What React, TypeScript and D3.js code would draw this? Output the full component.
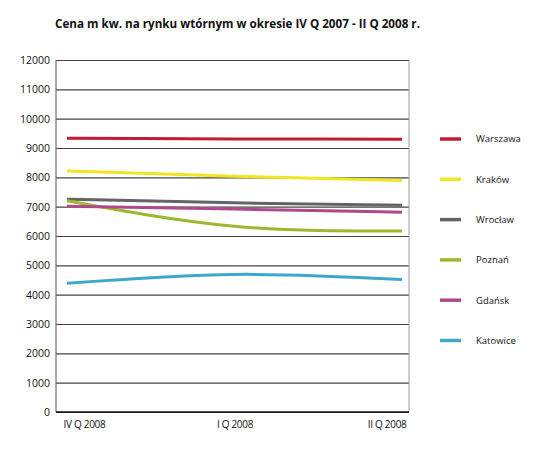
import React, { useRef, useEffect } from "react";
import * as d3 from "d3";

const quarters = ["IV Q 2008", "I Q 2008", "II Q 2008"];
const yTicks = [0, 1000, 2000, 3000, 4000, 5000, 6000, 7000, 8000, 9000, 10000, 11000, 12000];

const cities = ["Warszawa", "Kraków", "Wrocław", "Poznań", "Gdańsk", "Katowice"];
const colors = ["#c41a34", "#f2e620", "#646464", "#9cb82e", "#ad4a8e", "#3ea8c8"];

const warszawa = [9330, 9310, 9300];
const krakow = [8220, 8040, 7890];
const wroclaw = [7255, 7130, 7050];
const poznan = [7200, 6330, 6170];
const gdansk = [7010, 6920, 6810];
const katowice = [4390, 4690, 4517];

const series = [warszawa, krakow, wroclaw, poznan, gdansk, katowice];

const title = "Cena m kw. na rynku wtórnym w okresie IV Q 2007 - II Q 2008 r.";

const LineChart = () => {
  const chartRef = useRef<SVGSVGElement | null>(null);

  useEffect(() => {
    if (!chartRef.current) return;

    const svg = d3.select(chartRef.current);
    svg.selectAll("*").remove();

    const font = "'Open Sans', sans-serif";
    const left = 56;
    const right = 409;
    const top = 60;
    const bottom = 412;

    const x = d3.scalePoint().domain(quarters).range([67, 402]);
    const y = d3.scaleLinear().domain([0, 12000]).range([bottom, top]);

    // title
    svg
      .append("text")
      .attr("x", 55)
      .attr("y", 28)
      .attr("textLength", 365)
      .attr("lengthAdjust", "spacingAndGlyphs")
      .style("font-family", font)
      .style("font-weight", "bold")
      .style("font-size", "13px")
      .style("fill", "#111")
      .text(title);

    // grid lines
    svg
      .append("g")
      .attr("transform", `translate(${left},0)`)
      .call(
        d3
          .axisLeft(y)
          .tickValues(yTicks)
          .tickSize(-(right - left))
          .tickFormat(() => "")
      )
      .call((g) => g.select(".domain").remove())
      .call((g) => g.selectAll(".tick line").attr("stroke", "#444").attr("stroke-width", 1.1));

    // y labels
    svg
      .append("g")
      .attr("transform", `translate(${left},0)`)
      .call(d3.axisLeft(y).tickValues(yTicks).tickSize(0).tickPadding(6).tickFormat((d) => String(d)))
      .call((g) => g.select(".domain").remove())
      .selectAll("text")
      .style("font-family", font)
      .style("font-size", "10.5px")
      .style("fill", "#111");

    // frame sides
    svg
      .append("line")
      .attr("x1", left)
      .attr("x2", left)
      .attr("y1", top)
      .attr("y2", bottom)
      .attr("stroke", "#555")
      .attr("stroke-width", 1);
    svg
      .append("line")
      .attr("x1", right)
      .attr("x2", right)
      .attr("y1", top)
      .attr("y2", bottom)
      .attr("stroke", "#9a9a9a")
      .attr("stroke-width", 1);
    svg
      .append("line")
      .attr("x1", left)
      .attr("x2", right)
      .attr("y1", bottom)
      .attr("y2", bottom)
      .attr("stroke", "#111")
      .attr("stroke-width", 1.5);

    // x labels
    svg
      .append("g")
      .attr("transform", `translate(0,${bottom})`)
      .call(d3.axisBottom(x).tickSize(0).tickPadding(9))
      .call((g) => g.select(".domain").remove())
      .selectAll("text")
      .style("font-family", font)
      .style("font-size", "10px")
      .style("letter-spacing", "-0.3px")
      .style("fill", "#111")
      .attr("dx", (_, i) => (i === 0 ? -4 : i === quarters.length - 1 ? 4 : 0))
      .style("text-anchor", (_, i) =>
        i === 0 ? "start" : i === quarters.length - 1 ? "end" : "middle"
      );

    // lines
    const line = d3
      .line<number>()
      .x((_, i) => x(quarters[i]) || 0)
      .y((d) => y(d))
      .curve(d3.curveNatural);

    svg
      .append("g")
      .selectAll("path")
      .data(series)
      .enter()
      .append("path")
      .attr("d", (d) => line(d))
      .attr("fill", "none")
      .attr("stroke", (_, i) => colors[i])
      .attr("stroke-width", 3)
      .attr("stroke-linecap", "butt");

    // legend
    const legend = svg
      .append("g")
      .selectAll("g")
      .data(cities)
      .enter()
      .append("g")
      .attr("transform", (_, i) => `translate(440,${139 + i * 40.3})`);

    legend
      .append("line")
      .attr("x1", 0)
      .attr("x2", 21)
      .attr("stroke", (_, i) => colors[i])
      .attr("stroke-width", 3.5);

    legend
      .append("text")
      .attr("x", 36)
      .attr("dy", "0.35em")
      .style("font-family", font)
      .style("font-size", "9.5px")
      .style("fill", "#111")
      .text((d) => d);
  }, []);

  // body keeps its default 8px margin, so pull the svg back to the page corner
  return (
    <svg
      ref={chartRef}
      width={550}
      height={470}
      style={{ display: "block", margin: "-8px", background: "#fff" }}
    />
  );
};

export default function App() {
  return <LineChart />;
}
